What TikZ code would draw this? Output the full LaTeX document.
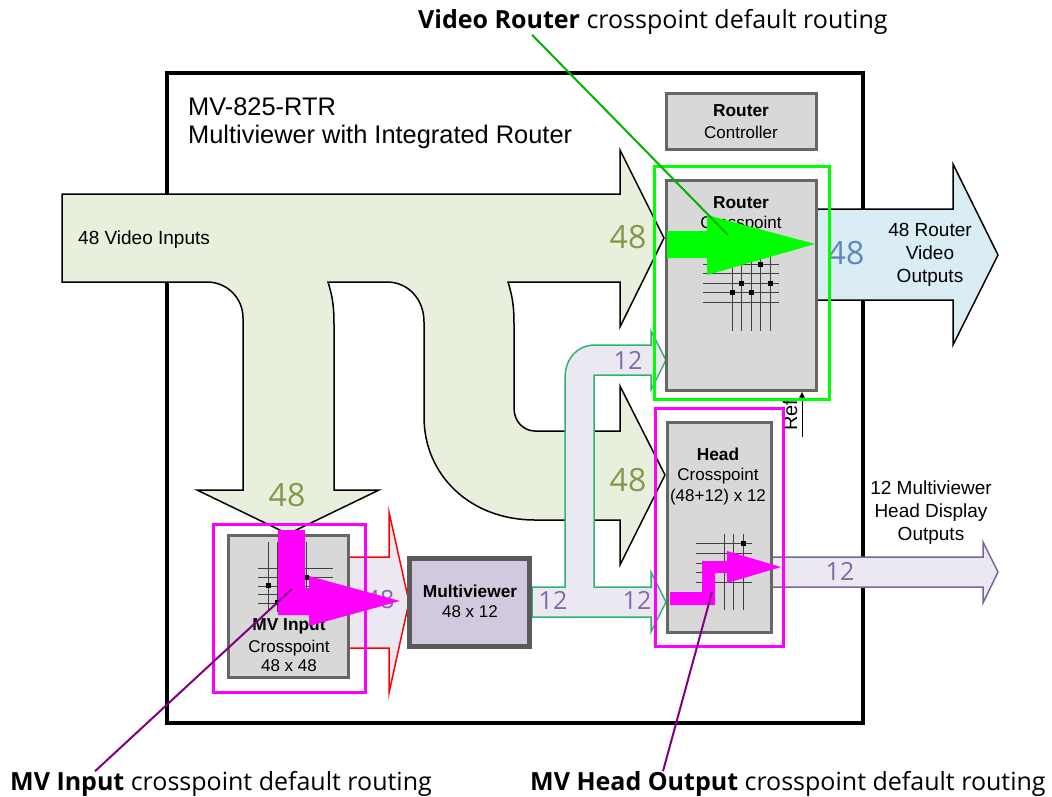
\documentclass[tikz,border=0pt]{standalone}
\usepackage{fontspec}
\usetikzlibrary{arrows.meta}
\setmainfont{Liberation Sans}
\newfontfamily\notefont{Open Sans}
\definecolor{flowgreen}{HTML}{E9EFDD}
\definecolor{flowblue}{HTML}{DAEDF4}
\definecolor{flowlilac}{HTML}{ECE8F2}
\definecolor{boxgray}{HTML}{D8D8D8}
\definecolor{boxedge}{HTML}{666666}
\definecolor{mvedge}{HTML}{5A5A5A}
\definecolor{mvfill}{HTML}{D2C9DF}
\definecolor{numgreen}{HTML}{7F9A48}
\definecolor{numblue}{HTML}{5F86BF}
\definecolor{numlilac}{HTML}{7F6AA5}
\definecolor{lilacedge}{HTML}{7A6496}
\definecolor{pipeedge}{HTML}{2DB56E}
\definecolor{hotgreen}{HTML}{00FF00}
\definecolor{hotpink}{HTML}{FF00FF}
\definecolor{linegreen}{HTML}{00B400}
\definecolor{linepurple}{HTML}{800080}
\tikzset{
  xptbox/.style={draw=boxedge,fill=boxgray,line width=3pt,inner sep=0pt},
  txt/.style={font=\fontsize{17}{20}\selectfont,inner sep=0pt},
  boldtxt/.style={font=\fontsize{17.3}{20}\selectfont\bfseries,inner sep=0pt},
  bigtxt/.style={font=\fontsize{25.4}{30}\selectfont,inner sep=0pt,anchor=west},
  flowtxt/.style={font=\fontsize{19}{23}\selectfont,inner sep=0pt,align=center},
  numbig/.style={font=\notefont\fontsize{32}{36}\selectfont,inner sep=0pt},
  numsmall/.style={font=\notefont\fontsize{25}{30}\selectfont,inner sep=0pt,text=numlilac},
  notetxt/.style={font=\notefont\fontsize{25}{30}\selectfont,inner sep=0pt},
  grid/.style={line width=0.9pt,draw=black!75},
  spot/.style={fill=black,minimum size=5pt,inner sep=0pt},
  hotbox/.style={line width=3pt},
  pointer/.style={line width=2pt},
  flowedge/.style={line width=1.5pt}
}
\begin{document}
\begin{tikzpicture}[x=1pt,y=-1pt]
\useasboundingbox (0,0) rectangle (1052,796);
% chassis
\draw[line width=4pt,fill=white] (167,73) rectangle (863,723);
% 48 video inputs
\draw[flowedge,fill=flowgreen] (62,194) -- (620,194) -- (620,150) -- (664,238) -- (620,327) -- (620,282) -- (508,282)
  .. controls (513,298) and (514,308) .. (514,325) -- (514,408) .. controls (514,422) and (524,431) .. (535,431)
  -- (620,431) -- (620,386) -- (665,475) -- (620,565) -- (620,520) -- (535,520)
  .. controls (470,520) and (424,475) .. (424,417) -- (424,322) .. controls (424,298) and (407,282) .. (387,282)
  -- (328,282) .. controls (333,298) and (334,308) .. (334,325) -- (334,490) -- (379,490) -- (288,534) -- (197,490)
  -- (243,490) -- (243,318) .. controls (243,298) and (227,282) .. (207,282) -- (62,282) -- cycle;
\node[numbig,text=numgreen] (numrtr) at (628,237) {48};
\node[numbig,text=numgreen] (numhead) at (628,480) {48};
\node[numbig,text=numgreen] (numinput) at (287,495) {48};
\node[flowtxt,anchor=west] (inputstxt) at (78,240) {48 Video Inputs};
% router outputs
\draw[flowedge,fill=flowblue] (817,209) -- (953,209) -- (953,164) -- (998,255) -- (953,345) -- (953,300) -- (817,300) -- cycle;
\node[numbig,text=numblue] (numout) at (846,253) {48};
\node[flowtxt] (routertxt) at (930,255) {48 Router\\Video\\Outputs};
% multiviewer to crosspoints
\draw[flowedge,draw=pipeedge,fill=flowlilac] (532,587) -- (565,587) -- (565,378) .. controls (565,358) and (578,345) .. (595,345)
  -- (651,345) -- (651,331) -- (666,360) -- (651,390) -- (651,375) -- (594,375) -- (594,587) -- (651,587) -- (651,572)
  -- (666,602) -- (651,632) -- (651,617) -- (532,617) -- cycle;
\node[numsmall] (numupper) at (628,360) {12};
\node[numsmall] (numleft) at (553,600) {12};
\node[numsmall] (numright) at (637,600) {12};
% mv input to multiviewer
\draw[flowedge,draw=red,fill=flowlilac] (349,557) -- (389,557) -- (389,512) -- (409,602) -- (389,693) -- (389,648) -- (349,648) -- cycle;
\node[numsmall] (nummv) at (380,600) {48};
% head outputs
\draw[flowedge,draw=lilacedge,fill=flowlilac] (772,557) -- (983,557) -- (983,542) -- (998,572) -- (983,603) -- (983,587) -- (772,587) -- cycle;
\node[numsmall] (numhdout) at (840,571) {12};
\node[flowtxt] (headtxt) at (931,513) {12 Multiviewer\\Head Display\\Outputs};
% router controller
\node[xptbox,minimum width=150pt,minimum height=56pt] (ctrl) at (741,121) {};
\node[boldtxt] (ctrla) at (741,111) {Router};
\node[txt] (ctrlb) at (741,132) {Controller};
% router crosspoint
\node[xptbox,minimum width=150pt,minimum height=210pt] (rtrxpt) at (741,285) {};
\node[boldtxt] (rtra) at (741,203) {Router};
\node[txt] (rtrb) at (741,224) {Crosspoint};
\foreach \y in {264,273,283,292,302} \draw[grid] (703,\y) -- (779,\y);
\foreach \x in {732,741,751,760,770} \draw[grid] (\x,255) -- (\x,331);
\foreach \x/\y in {760/264,741/283,770/283,732/292,751/292} \node[spot] at (\x,\y) {};
% head crosspoint
\node[xptbox,minimum width=104pt,minimum height=210pt] (headxpt) at (719,527) {};
\node[boldtxt] (heada) at (718,454) {Head};
\node[txt] (headb) at (718,476) {Crosspoint};
\node[txt] (headc) at (718,497) {(48+12) x 12};
\foreach \y in {543,553,563,572,582} \draw[grid] (696,\y) -- (752,\y);
\foreach \x in {724,733,743} \draw[grid] (\x,534) -- (\x,610);
\node[spot] at (743,543) {};
% mv input crosspoint
\node[xptbox,minimum width=120pt,minimum height=142pt] (inxpt) at (288,606) {};
\node[boldtxt] (ina) at (289,626) {MV Input};
\node[txt] (inb) at (289,648) {Crosspoint};
\node[txt] (inc) at (289,666) {48 x 48};
\foreach \y in {568,577,586,594,603} \draw[grid] (258,\y) -- (333,\y);
\foreach \x in {268,277,287,296,306} \draw[grid] (\x,542) -- (\x,612);
\foreach \x/\y in {268/585,306/577,277/602} \node[spot] at (\x,\y) {};
% multiviewer
\node[draw=mvedge,fill=mvfill,line width=5pt,inner sep=0pt,minimum width=120pt,minimum height=88pt] (mv) at (469.5,602.5) {};
\node[boldtxt] (mva) at (470,591) {Multiviewer};
\node[txt] (mvb) at (470,612) {48 x 12};
% ref input
\coordinate (refstart) at (802,437);
\draw[line width=1pt,-{Latex[length=6pt,width=6pt]}] (refstart) -- (rtrxpt.south -| refstart);
\node[flowtxt,font=\fontsize{20}{23}\selectfont,rotate=90] (reftxt) at (790,415) {Ref};
% routing highlights
\draw[hotbox,draw=hotgreen] (654,166) rectangle (829,399);
\fill[hotgreen] (667,231) -- (707,231) -- (707,215) -- (815,244) -- (707,275) -- (707,258) -- (667,258) -- cycle;
\draw[hotbox,draw=hotpink] (655,408) rectangle (783,646);
\fill[hotpink] (670,592) -- (702,592) -- (702,561) -- (727,561) -- (727,551) -- (781,567) -- (727,583) -- (727,573) -- (715,573) -- (715,605) -- (670,605) -- cycle;
\draw[hotbox,draw=hotpink] (213,524) rectangle (365,692);
\fill[hotpink] (278,530) -- (305,530) -- (305,588) -- (309,588) -- (309,576) -- (400,601) -- (309,626) -- (309,615) -- (278,615) -- cycle;
% notes
\node[notetxt,anchor=west] (noterouter) at (418,22) {\textbf{Video Router} crosspoint default routing};
\node[notetxt,anchor=west] (noteinput) at (10,784) {\textbf{MV Input} crosspoint default routing};
\node[notetxt,anchor=west] (notehead) at (530,784) {\textbf{MV Head Output} crosspoint default routing};
\coordinate (hitrouter) at (728,235);
\coordinate (hitinput) at (292,589);
\coordinate (hithead) at (712,592);
\draw[pointer,draw=linegreen] (noterouter.south -| 532,0) -- (hitrouter);
\draw[pointer,draw=linepurple] (noteinput.north -| 95,0) -- (hitinput);
\draw[pointer,draw=linepurple] (notehead.north -| 663,0) -- (hithead);
% title
\node[bigtxt] (titlea) at (188,107) {MV-825-RTR};
\node[bigtxt] (titleb) at (188,137) {Multiviewer with Integrated Router};
\end{tikzpicture}
\end{document}
